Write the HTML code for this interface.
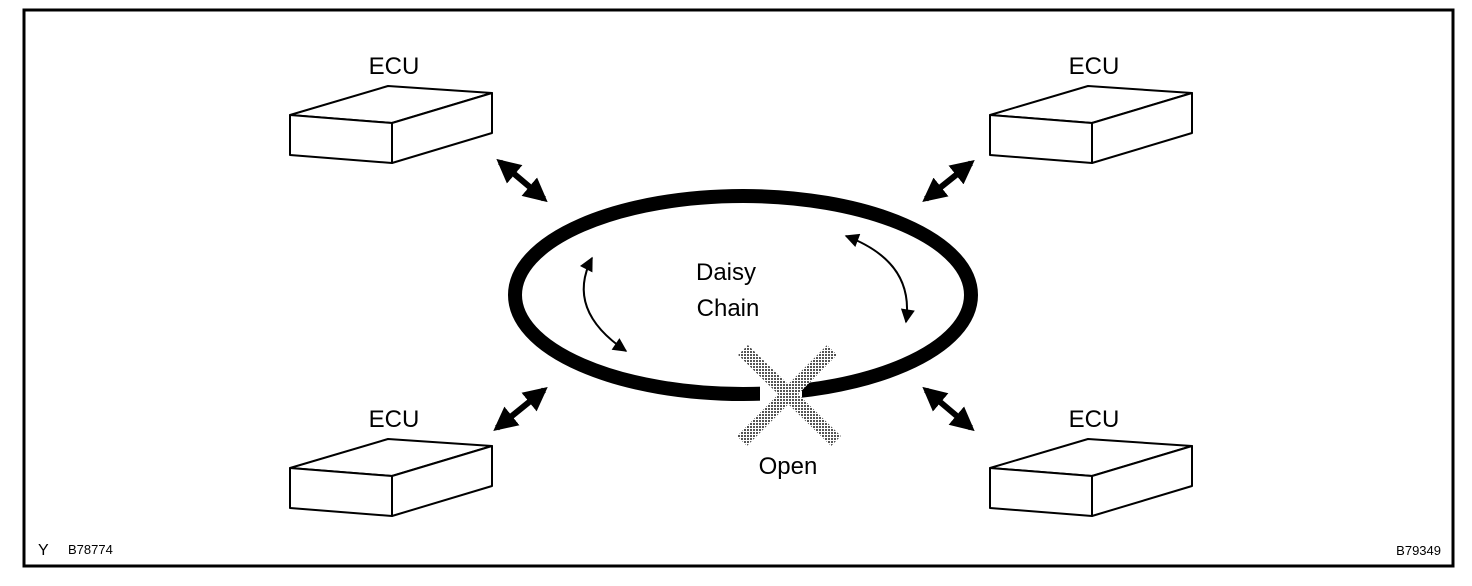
<!DOCTYPE html>
<html><head><style>
html,body{margin:0;padding:0;background:#fff;}
svg{display:block;}
text{font-family:"Liberation Sans",Arial,sans-serif;fill:#000;}
</style></head><body>
<svg width="1472" height="586" viewBox="0 0 1472 586" xmlns="http://www.w3.org/2000/svg">
<defs>
<pattern id="dots" width="3" height="3" patternUnits="userSpaceOnUse">
<rect width="3" height="3" fill="#fff"/><rect width="2" height="2" fill="#555"/>
</pattern>
<marker id="bh" viewBox="0 0 10 10" refX="8" refY="5" markerWidth="4" markerHeight="4" orient="auto-start-reverse"><path d="M0,0 L10,5 L0,10 z" fill="#000"/></marker>
<marker id="th" viewBox="0 0 10 10" refX="9" refY="5" markerWidth="20" markerHeight="14" markerUnits="userSpaceOnUse" orient="auto-start-reverse"><path d="M0,0 L10,5 L0,10 z" fill="#000"/></marker>
<g id="box" fill="#fff" stroke="#000" stroke-width="2" stroke-linejoin="round">
<path d="M290,115 L388,86 L492,93 L392,123 Z"/>
<path d="M290,115 L392,123 L392,163 L290,155 Z"/>
<path d="M392,123 L492,93 L492,133 L392,163 Z"/>
</g>
</defs>
<rect x="24" y="10" width="1429" height="556" fill="none" stroke="#000" stroke-width="3"/>

<use href="#box"/>
<use href="#box" transform="translate(700,0)"/>
<use href="#box" transform="translate(0,353)"/>
<use href="#box" transform="translate(700,353)"/>
<text x="394" y="74" font-size="24" text-anchor="middle">ECU</text>
<text x="1094" y="74" font-size="24" text-anchor="middle">ECU</text>
<text x="394" y="427" font-size="24" text-anchor="middle">ECU</text>
<text x="1094" y="427" font-size="24" text-anchor="middle">ECU</text>

<!-- ellipse with gap -->
<ellipse cx="743" cy="295" rx="228" ry="99" fill="none" stroke="#000" stroke-width="14"/>
<rect x="760" y="378" width="42" height="30" fill="#fff"/>

<!-- thick arrows -->
<g stroke="#000" stroke-width="6" marker-start="url(#bh)" marker-end="url(#bh)">
<line x1="500" y1="162" x2="544" y2="199"/>
<line x1="971" y1="163" x2="926" y2="199"/>
<line x1="544" y1="390" x2="497" y2="428"/>
<line x1="926" y1="390" x2="971" y2="428"/>
</g>

<!-- thin arrows -->
<path d="M592,258 Q565,310 626,351" fill="none" stroke="#000" stroke-width="2" marker-start="url(#th)" marker-end="url(#th)"/>
<path d="M846,236 Q915,262 906,322" fill="none" stroke="#000" stroke-width="2" marker-start="url(#th)" marker-end="url(#th)"/>

<text x="726" y="280" font-size="24" text-anchor="middle">Daisy</text>
<text x="728" y="316" font-size="24" text-anchor="middle">Chain</text>

<!-- X -->
<g stroke="url(#dots)" stroke-width="14" stroke-linecap="butt">
<line x1="743" y1="350" x2="836" y2="441"/>
<line x1="832" y1="350" x2="742" y2="441"/>
</g>
<text x="788" y="474" font-size="24" text-anchor="middle">Open</text>

<text x="38" y="555" font-size="16">Y</text>
<text x="68" y="554" font-size="13">B78774</text>
<text x="1441" y="555" font-size="13" text-anchor="end">B79349</text>
</svg>
</body></html>
